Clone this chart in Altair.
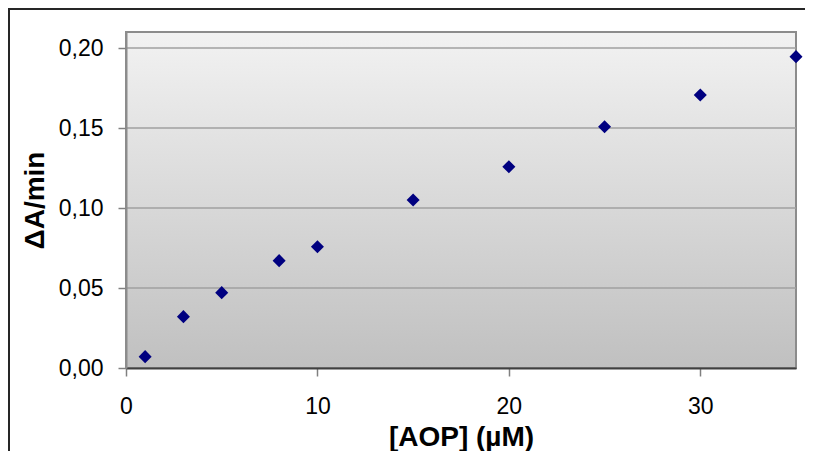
import altair as alt
import pandas as pd

# ---- data ----
aop_um = [1, 3, 5, 8, 10, 15, 20, 25, 30, 35]
delta_a_min = [0.0071, 0.0321, 0.0471, 0.0671, 0.0758, 0.1050, 0.1258, 0.1508, 0.1706, 0.1946]
x_ticks = [0, 10, 20, 30]
y_ticks = [0.00, 0.05, 0.10, 0.15, 0.20]
grid_vals = [0.05, 0.10, 0.15, 0.20]
x_domain = [0, 35]
y_domain = [0, 0.21]

df = pd.DataFrame({"aop": aop_um, "rate": delta_a_min})
grid_df = pd.DataFrame({"g": grid_vals})
one = pd.DataFrame({"k": [0]})

FONT = "Liberation Sans"

xscale = alt.Scale(domain=x_domain, nice=False, zero=False)
yscale = alt.Scale(domain=y_domain, nice=False)

xaxis = alt.Axis(
    values=x_ticks, title="[AOP] (µM)", grid=False,
    domainColor="#404040", domainWidth=2,
    tickColor="#808080", tickWidth=1.5, tickSize=8,
    labelFont=FONT, labelFontSize=23, labelColor="black",
    labelPadding=30, labelBaseline="middle", labelFlush=False,
    titleFont=FONT, titleFontSize=28, titleFontWeight="bold", titleColor="black",
    titleY=69, titleBaseline="middle", zindex=1,
)
yaxis = alt.Axis(
    values=y_ticks, title="ΔA/min", grid=False,
    domainColor="#8c8c8c", domainWidth=2,
    tickColor="#808080", tickWidth=1.5, tickSize=8,
    labelFont=FONT, labelFontSize=23, labelColor="black", labelPadding=15,
    labelExpr="replace(format(datum.value, '.2f'), '.', ',')",
    titleFont=FONT, titleFontSize=28, titleFontWeight="bold", titleColor="black",
    titleAngle=270, titleX=-91, titleY=168, titleAlign="center", titleBaseline="middle",
    zindex=1,
)

gradient = alt.Gradient(
    gradient="linear",
    stops=[alt.GradientStop(color="#f2f2f2", offset=0),
           alt.GradientStop(color="#c0c0c0", offset=1)],
    x1=0, x2=0, y1=0, y2=1,
)

background = alt.Chart(one).mark_rect(fill=gradient, stroke="#8c8c8c", strokeWidth=2).encode(
    x=alt.XDatum(x_domain[0], type="quantitative", scale=xscale, axis=xaxis),
    x2=alt.X2Datum(x_domain[1]),
    y=alt.YDatum(y_domain[0], type="quantitative", scale=yscale, axis=yaxis),
    y2=alt.Y2Datum(y_domain[1]),
)

grid = alt.Chart(grid_df).mark_rule(color="#a0a0a0", strokeWidth=1.3).encode(
    y=alt.Y("g:Q", scale=yscale, axis=yaxis),
)

points = alt.Chart(df).mark_point(
    shape="diamond", filled=True, size=170, color="#000080", opacity=1
).encode(
    x=alt.X("aop:Q", scale=xscale, axis=xaxis),
    y=alt.Y("rate:Q", scale=yscale, axis=yaxis),
)

frame_left = alt.Chart(one).mark_rule(color="#262626", strokeWidth=2).encode(
    x=alt.value(-117), y=alt.value(-24), y2=alt.value(480)
)
frame_top = alt.Chart(one).mark_rule(color="#262626", strokeWidth=2).encode(
    x=alt.value(-118), x2=alt.value(700), y=alt.value(-23)
)

chart = alt.layer(background, grid, points, frame_left, frame_top).properties(
    width=670, height=336,
    autosize=alt.AutoSizeParams(type="none"),
    padding={"left": 118, "top": 24, "right": 9, "bottom": 83},
    background="white",
).configure_view(stroke=None)

chart.save("out.html", embed_options={"renderer": "svg", "actions": False})
